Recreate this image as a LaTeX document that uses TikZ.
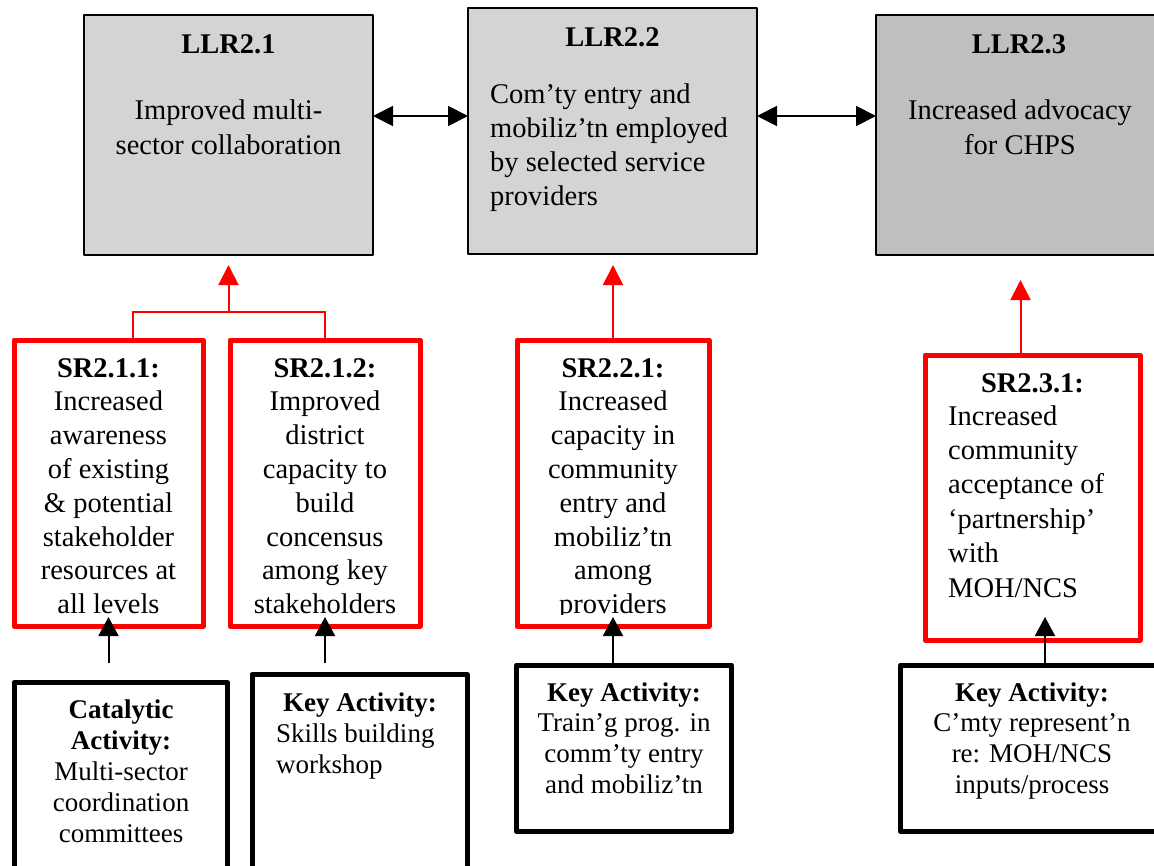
\documentclass[tikz,border=0pt]{standalone}
\usepackage{fontspec}
\setmainfont{Liberation Serif}
\usetikzlibrary{arrows.meta,calc}
\begin{document}
\begin{tikzpicture}[x=1pt,y=-1pt,
  box/.style={inner sep=0pt, outer sep=0pt, anchor=north west, line join=round},
  llrbox/.style={box, draw=black, line width=1.5pt},
  srbox/.style={box, draw=red, line width=5pt},
  kabox/.style={box, draw=black, line width=5pt},
  topfont/.style={font=\fontsize{28.5}{35}\selectfont},
  srfont/.style={font=\fontsize{28.5}{33.8}\selectfont},
  kafont/.style={font=\fontsize{27}{30.8}\selectfont},
  ctext/.style={inner sep=0pt, anchor=base, align=center},
  ltext/.style={inner sep=0pt, anchor=base west, align=left},
  dbl/.style={line width=2pt, {Triangle[length=20pt,width=20pt]}-{Triangle[length=20pt,width=20pt]}},
  redthin/.style={draw=red, line width=2pt},
  redarrow/.style={red, line width=2pt, -{Triangle[length=20pt,width=20pt]}},
  barrow/.style={black, line width=2pt, -{Triangle[length=19pt,width=20pt]}}
]
\useasboundingbox (0,0) rectangle (1154,865);
\clip (0,0) rectangle (1154,865);

% top level boxes
\node[llrbox, fill=black!17, minimum width=289pt, minimum height=240pt] (llr21) at (84,15) {};
\node[llrbox, fill=black!17, minimum width=289pt, minimum height=246pt] (llr22) at (468,8) {};
\node[llrbox, fill=black!25, minimum width=289pt, minimum height=240pt] (llr23) at (876,15) {};

% (multi-line text nodes: base anchor = baseline of the last line)
\node[ctext, topfont] (t21) at (228.5,53) {\textbf{LLR2.1}};
\node[ctext, topfont] (b21) at (228.5,154) {Improved multi-\\sector collaboration};
\node[ctext, topfont] (t22) at (612.5,46) {\textbf{LLR2.2}};
\node[ltext, font=\fontsize{28.5}{34}\selectfont] (b22) at (490,205) {Com’ty entry and\\mobiliz’tn employed\\by selected service\\providers};
\node[ctext, topfont] (t23) at (1019,53) {\textbf{LLR2.3}};
\node[ctext, topfont] (b23) at (1020,154) {Increased advocacy\\for CHPS};

% SR boxes
\node[srbox, minimum width=189pt, minimum height=286pt] (sr211) at (14,340) {};
\node[srbox, minimum width=190pt, minimum height=286pt] (sr212) at (230,340) {};
\node[srbox, minimum width=192pt, minimum height=286pt] (sr221) at (517,340) {};
\node[srbox, minimum width=215pt, minimum height=285pt] (sr231) at (925,355) {};

\node[ctext, srfont] (s211) at (108.5,613.6) {\textbf{SR2.1.1:}\\Increased\\awareness\\of existing\\\& potential\\stakeholder\\resources at\\all levels};
\node[ctext, srfont] (s212) at (325,613.6) {\textbf{SR2.1.2:}\\Improved\\district\\capacity to\\build\\concensus\\among key\\stakeholders};
\begin{scope}
\clip (520,343) rectangle (706,614);
\node[ctext, srfont] (s221) at (613,613.6) {\textbf{SR2.2.1:}\\Increased\\capacity in\\community\\entry and\\mobiliz’tn\\among\\providers};
\end{scope}
\node[ctext, srfont] (s231t) at (1032.5,392) {\textbf{SR2.3.1:}};
\node[ltext, font=\fontsize{28.5}{34.4}\selectfont] (s231) at (948,597) {Increased\\community\\acceptance of\\‘partnership’\\with\\MOH/NCS};

% activity boxes
\node[kabox, minimum width=213.5pt, minimum height=220pt] (cat) at (14,682.5) {};
\node[kabox, minimum width=215pt, minimum height=220pt] (key2) at (252,674.5) {};
\node[kabox, minimum width=215pt, minimum height=166.5pt] (key3) at (516.5,665) {};
\node[kabox, minimum width=265pt, minimum height=166.5pt] (key4) at (900.5,665) {};

\node[ctext, kafont] (c1) at (121,842) {\textbf{Catalytic}\\\textbf{Activity:}\\Multi-sector\\coordination\\committees};
\node[ctext, kafont] (k2t) at (360,711) {\textbf{Key Activity:}};
\node[ltext, kafont] (k2) at (276,773) {Skills building\\workshop};
\node[ctext, kafont] (k3) at (624,793.4) {\textbf{Key Activity:}\\Train’g prog. in\\comm’ty entry\\and mobiliz’tn};
\node[ctext, kafont] (k4) at (1032,793.4) {\textbf{Key Activity:}\\C’mty represent’n\\re: MOH/NCS\\inputs/process};

% connectors between top boxes
\coordinate (ay) at (0,116);
\draw[dbl] (llr21.east |- ay) -- (llr22.west |- ay);
\draw[dbl] (llr22.east |- ay) -- (llr23.west |- ay);

% red connectors
\coordinate (forky) at (0,312);
\draw[redthin] ([xshift=24.5pt]sr211.north) |- (forky -| sr212.north) -- (sr212.north);
\draw[redarrow] (forky -| llr21.south) -- ($(llr21.south)+(0,10)$);
\draw[redarrow] (sr221.north) -- ($(sr221.north |- llr22.south)+(0,11)$);
\draw[redarrow] (sr231.north -| llr23.south) -- ($(llr23.south)+(0,25)$);

% black connectors
\draw[barrow] ($(sr211.south |- cat.north)+(0,-19.5)$) -- ($(sr211.south)+(0,-9)$);
\draw[barrow] ($(sr212.south |- key2.north)+(0,-11.5)$) -- ($(sr212.south)+(0,-9)$);
\draw[barrow] (sr221.south |- key3.north) -- ($(sr221.south)+(0,-9)$);
\draw[barrow] ($(sr231.south |- key4.north)+(12.5,0)$) -- ($(sr231.south)+(12.5,-23)$);
\end{tikzpicture}
\end{document}
